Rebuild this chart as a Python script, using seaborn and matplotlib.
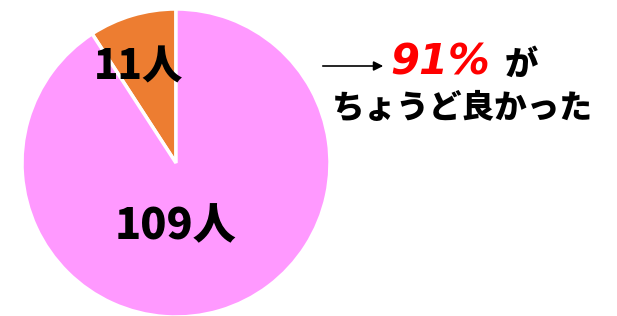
import matplotlib
matplotlib.use("Agg")
import matplotlib.pyplot as plt
import seaborn as sns

categories = ["11人", "109人"]
values = [11, 109]
colors = ["#ED7D31", "#FF99FF"]
pct_text = "91%"
line1_tail = "が"
line2 = "ちょうど良かった"

sns.set_theme(style="white")
plt.rcParams['font.family'] = ['Noto Sans CJK JP', 'DejaVu Sans']

fig = plt.figure(figsize=(6.17, 3.16), dpi=100)
ax = fig.add_axes([22/617, -1/316, 308/617, 308/316])
wedges, texts = ax.pie(values, colors=colors, startangle=90, counterclock=True,
                       wedgeprops=dict(edgecolor="white", linewidth=2.5),
                       labels=categories, labeldistance=None)
ax.set_aspect("equal")
ax.set_xlim(-1, 1)
ax.set_ylim(-1, 1)

ax.text(-0.245, 0.62, categories[0], ha="center", va="center", fontsize=29,
        fontweight="black", color="black")
ax.text(0.0, -0.41, categories[1], ha="center", va="center", fontsize=31,
        fontweight="black", color="black")

# annotation on the right
fig.text(390/617, 1-63/316, pct_text, ha="left", va="center", fontsize=30,
         fontweight="bold", color="#FF0000", style="oblique",
         family=["DejaVu Sans"])
fig.text(505/617, 1-64/316, line1_tail, ha="left", va="center", fontsize=24,
         fontweight="black", color="black")
fig.text(462/617, 1-108/316, line2, ha="center", va="center", fontsize=23.5,
         fontweight="black", color="black")
fig.add_artist(matplotlib.patches.FancyArrowPatch(
    (320/617, 1-66/316), (386/617, 1-66/316), transform=fig.transFigure,
    arrowstyle="-|>", mutation_scale=14, color="black", linewidth=1.2))

fig.savefig("out.png", dpi=100)
